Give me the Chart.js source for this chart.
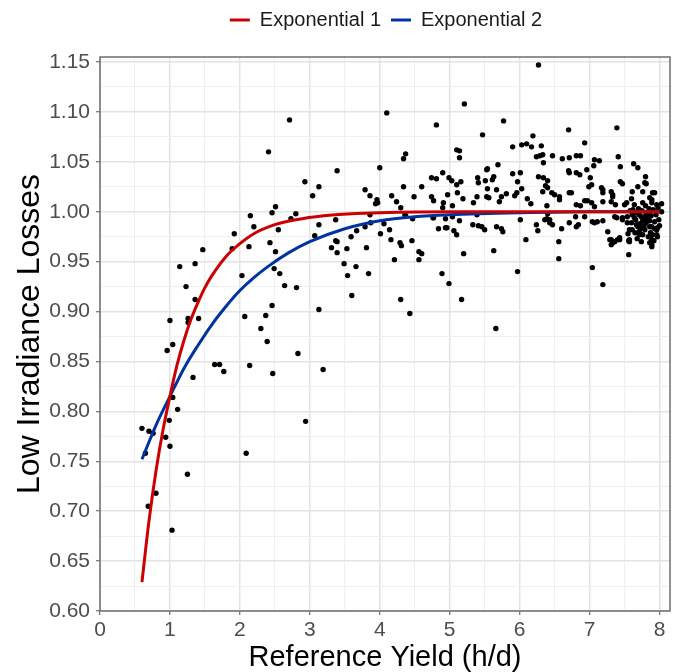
<!DOCTYPE html>
<html>
<head>
<meta charset="utf-8">
<script src="https://cdn.jsdelivr.net/npm/chart.js@4.4.1/dist/chart.umd.min.js"></script>
<style>
  html, body { margin: 0; padding: 0; background: #fff; }
  #wrap { position: relative; width: 683px; height: 672px; }
</style>
</head>
<body>
<div id="wrap"><canvas id="lossChart" width="683" height="672"></canvas></div>
<script>
// tick labels
const xTicks = [0, 1, 2, 3, 4, 5, 6, 7, 8];
const yTicks = [0.60, 0.65, 0.70, 0.75, 0.80, 0.85, 0.90, 0.95, 1.00, 1.05, 1.10, 1.15];

// fitted curves
const exp1X = [0.6, 0.7, 0.8, 0.9, 1.0, 1.1, 1.2, 1.3, 1.4, 1.5, 1.6, 1.8, 2.0, 2.2, 2.5, 2.8, 3.2, 3.6, 4.0, 5.0, 6.0, 7.0, 8.0];
const exp1Y = [0.629, 0.690, 0.740, 0.781, 0.815, 0.846, 0.871, 0.892, 0.909, 0.924, 0.936, 0.955, 0.968, 0.978, 0.987, 0.992, 0.996, 0.998, 0.999, 1.000, 1.000, 1.000, 1.000];
const exp2X = [0.6, 0.8, 1.0, 1.2, 1.4, 1.6, 1.8, 2.0, 2.2, 2.4, 2.7, 3.0, 3.5, 4.0, 4.5, 5.0, 6.0, 7.0, 8.0];
const exp2Y = [0.752, 0.786, 0.815, 0.843, 0.866, 0.887, 0.905, 0.921, 0.934, 0.945, 0.959, 0.970, 0.983, 0.991, 0.995, 0.997, 0.999, 1.000, 1.000];

// measured points [reference yield, low irradiance loss]
const measured = [
  [0.60,0.783],[0.70,0.780],[0.76,0.778],[0.94,0.774],[1.00,0.765],[0.65,0.758],[0.80,0.718],[0.69,0.705],
  [1.03,0.681],[1.25,0.737],[2.09,0.758],[1.04,0.814],[1.11,0.802],[0.99,0.791],[0.96,0.861],[1.04,0.867],
  [1.33,0.834],[1.00,0.891],[1.26,0.893],[1.26,0.889],[1.41,0.893],[1.36,0.912],[1.23,0.925],[1.14,0.945],
  [1.36,0.948],[1.47,0.962],[1.64,0.847],[1.71,0.847],[1.77,0.840],[2.14,0.846],[2.47,0.838],[1.89,0.963],
  [1.92,0.978],[2.13,0.965],[2.15,0.996],[2.20,0.985],[2.03,0.936],[2.07,0.895],[2.37,0.896],[2.46,0.906],
  [2.30,0.883],[2.39,0.870],[2.43,0.969],[2.41,1.060],[2.51,1.005],[2.46,0.999],[2.55,0.982],[2.73,0.993],
  [2.80,0.998],[2.71,1.092],[2.51,0.960],[2.49,0.943],[2.57,0.938],[2.64,0.926],[2.81,0.924],[2.83,0.858],
  [2.94,0.790],[3.19,0.842],[3.13,0.902],
  [2.93,1.030],[3.13,1.025],[3.04,1.016],[3.13,0.987],[3.37,0.992],[3.07,0.976],[3.37,0.971],[3.31,0.964],
  [3.53,0.963],[3.59,0.975],[3.67,0.981],[3.39,1.041],[3.79,1.022],[3.86,1.016],[3.96,1.012],[3.97,1.009],
  [3.94,1.008],[3.86,0.997],[3.79,0.985],[3.87,0.989],[3.81,0.964],[4.06,0.988],[4.14,0.982],[4.01,0.978],
  [4.00,1.044],[4.10,1.099],[4.17,1.016],[4.24,1.010],[4.30,1.004],[4.37,0.996],[4.47,0.993],[4.16,0.972],
  [4.29,0.969],[4.31,0.966],[4.46,0.971],[4.34,1.025],[4.49,1.015],[4.60,1.025],[4.37,1.058],[4.34,1.053],
  [3.39,0.970],[3.39,0.959],[3.49,0.948],[3.66,0.945],[3.54,0.936],[3.84,0.938],[3.60,0.916],[4.21,0.952],
  [4.56,0.960],[4.60,0.958],[4.56,0.952],[4.30,0.912],[4.43,0.898],[4.36,0.997],
  [4.81,1.087],[5.21,1.108],[5.10,1.062],[5.14,1.061],[5.14,1.054],[4.74,1.034],[4.81,1.033],[4.90,1.039],
  [4.99,1.034],[5.03,1.031],[5.10,1.027],[5.16,1.030],[4.74,1.015],[4.77,1.011],[4.91,1.009],[4.97,1.017],
  [5.04,1.006],[5.11,1.019],[5.19,1.013],[5.34,1.009],[5.39,1.015],[5.40,1.034],[5.41,1.029],[4.90,1.004],
  [4.77,0.994],[4.94,0.993],[5.04,0.995],[5.14,0.991],[4.84,0.983],[4.94,0.984],[5.06,0.981],[5.10,0.977],
  [5.33,0.987],[5.41,0.986],[4.89,0.938],[4.99,0.928],[5.17,0.912],[5.20,0.958],[4.76,0.994],[4.96,0.984],
  [6.27,1.147],[5.77,1.091],[5.47,1.077],[6.70,1.082],[7.39,1.084],[5.90,1.065],[6.03,1.067],[6.10,1.068],
  [6.17,1.065],[6.19,1.076],[6.31,1.066],[6.93,1.069],[6.24,1.055],[6.29,1.056],[6.33,1.057],[6.34,1.049],
  [6.47,1.056],[6.61,1.053],[6.71,1.054],[6.81,1.056],[6.87,1.056],[7.07,1.052],[7.14,1.051],[7.06,1.046],
  [7.41,1.055],[7.44,1.045],[7.63,1.048],[7.69,1.044],[5.54,1.043],[5.53,1.042],[5.69,1.047],[5.63,1.035],
  [5.61,1.032],[5.51,1.031],[5.90,1.038],[6.01,1.039],[5.97,1.030],[6.03,1.023],[5.96,1.019],[5.93,1.016],
  [6.27,1.035],[6.34,1.034],[6.40,1.031],[6.37,1.026],[6.40,1.024],[6.33,1.020],[6.70,1.041],[6.71,1.039],
  [6.81,1.039],[6.86,1.037],[6.96,1.042],[7.01,1.034],[6.99,1.025],[6.74,1.019],[6.50,1.017],[6.57,1.015],
  [6.57,1.012],[6.11,1.013],[6.16,1.008],[5.74,1.015],[5.81,1.018],[5.71,1.010],[5.67,1.022],[5.56,1.014],
  [5.54,1.023],[6.81,1.007],[6.87,1.006],[6.97,1.011],[7.03,1.009],[7.07,1.005],[7.17,1.024],[7.19,1.019],
  [7.19,1.010],[7.31,1.020],[7.33,1.015],[7.37,1.007],[7.44,1.030],[7.47,1.028],[7.50,1.007],[7.60,1.013],
  [7.61,1.020],[7.69,1.025],[7.76,1.020],[7.80,1.035],[7.81,1.028],[7.86,1.014],[7.93,1.019],[7.89,1.009],
  [7.76,1.009],[7.64,1.007],[8.03,1.008],[5.53,1.015],[6.39,1.006],[6.46,1.019],[6.71,1.019],[6.93,1.011],
  [5.46,0.985],[5.50,0.982],[5.67,0.985],[5.76,0.980],[5.74,0.983],[6.01,0.992],[6.09,0.972],[6.26,0.981],
  [6.39,0.993],[6.40,0.998],[6.43,0.989],[6.47,0.987],[6.60,0.983],[6.71,0.989],[6.81,0.985],[6.84,0.987],
  [6.93,0.995],[6.56,0.970],[7.07,0.989],[7.11,0.990],[7.19,0.991],[7.26,0.980],[7.29,0.972],[7.33,0.969],
  [7.40,0.972],[7.39,0.994],[7.47,0.992],[7.54,0.989],[7.57,0.982],[7.64,0.994],[7.69,0.985],[7.71,0.980],
  [7.76,0.977],[7.81,0.989],[7.89,0.985],[7.93,0.990],[7.96,0.982],[7.90,0.977],[7.97,0.975],[7.61,0.997],
  [7.67,0.999],[7.74,0.995],[7.79,0.995],[7.83,0.997],[7.57,0.970],[7.74,0.970],[7.86,0.969],[7.89,0.965],
  [6.24,0.987],[6.80,0.995],[5.63,0.961],[5.97,0.940],[5.66,0.883],[6.56,0.953],[7.04,0.944],[7.19,0.927],
  [7.31,0.967],[7.43,0.972],[7.56,0.971],[7.56,0.957],[7.89,0.967],[6.43,0.992],[5.39,0.997],[6.36,0.992],
  [7.03,1.027],[7.19,1.022],[7.33,1.017],[7.31,1.010],[7.53,1.009],[7.79,1.029],[7.90,1.019],[7.89,1.012],
  [7.96,1.007],[8.03,1.000],[7.04,0.990],[7.36,0.995],[7.47,0.994],[7.31,0.972],[7.36,0.970],[7.43,0.974],
  [7.57,0.972],[7.61,0.982],[7.71,0.977],[7.89,0.972],[7.96,0.977],[7.97,0.984],[7.86,0.985],[7.79,0.982],
  [7.67,0.987],[7.60,0.989],[7.76,0.991],[7.86,0.991],[7.71,0.997],[7.81,0.999],[7.54,0.995],
  [7.62,1.002],[7.66,0.992],[7.70,1.003],[7.72,0.988],[7.75,1.001],[7.78,0.986],[7.80,1.006],[7.83,0.993],
  [7.85,1.003],[7.87,0.979],[7.88,0.996],[7.91,1.002],[7.93,0.983],[7.95,0.997],[7.98,1.004],[7.99,0.992],
  [8.00,0.986],[7.84,0.975],[7.73,0.983],[7.65,0.979],[7.58,1.001],[7.55,0.978],[7.92,0.971],[7.68,0.973]
];

const FONT = "'Liberation Sans', Arial, sans-serif";
const RED = "#cc0000";
const BLUE = "#0033a0";

// add a minor line halfway between every pair of labelled ticks
const withMinors = (majors) => {
  const out = [];
  majors.forEach((v, i) => {
    out.push({ value: v, major: true });
    if (i < majors.length - 1) out.push({ value: (v + majors[i + 1]) / 2, major: false });
  });
  return out;
};

const gridColor = (c) => (c.tick && c.tick.major ? "#e3e3e3" : "#efefef");
const gridWidth = (c) => (c.tick && c.tick.major ? 1.5 : 1);
const tickMarkColor = (c) => (c.tick && c.tick.major ? "#555555" : "rgba(0,0,0,0)");

// legend sits higher than the plot, shifted over the panel like ggplot
const legendSpacer = {
  id: "legendSpacer",
  beforeLayout(chart) {
    const lg = chart.legend;
    if (lg && !lg._spaced) {
      const fit = lg.fit;
      lg.fit = function () {
        fit.call(this);
        this.height = 57;
      };
      lg._spaced = true;
    }
  },
  afterLayout(chart) {
    chart.legend.left += 51;
    chart.legend.right += 51;
  },
};

const panelBorder = {
  id: "panelBorder",
  afterDatasetsDraw(chart) {
    const { ctx, chartArea: a } = chart;
    ctx.save();
    ctx.strokeStyle = "#6e6e6e";
    ctx.lineWidth = 1.5;
    ctx.strokeRect(a.left, a.top, a.right - a.left, a.bottom - a.top);
    ctx.restore();
  },
};

new Chart(document.getElementById("lossChart"), {
  type: "scatter",
  data: {
    datasets: [
      {
        label: "Exponential 1",
        data: exp1X.map((x, i) => ({ x: x, y: exp1Y[i] })),
        showLine: true,
        borderColor: RED,
        backgroundColor: RED,
        borderWidth: 3,
        pointRadius: 0,
        cubicInterpolationMode: "monotone",
      },
      {
        label: "Exponential 2",
        data: exp2X.map((x, i) => ({ x: x, y: exp2Y[i] })),
        showLine: true,
        borderColor: BLUE,
        backgroundColor: BLUE,
        borderWidth: 3,
        pointRadius: 0,
        cubicInterpolationMode: "monotone",
      },
      {
        label: "Measured",
        data: measured.map((p) => ({ x: p[0], y: p[1] })),
        backgroundColor: "#000000",
        borderWidth: 0,
        pointRadius: 2.7,
      },
    ],
  },
  options: {
    responsive: false,
    animation: false,
    layout: { padding: { top: 0, right: 13, bottom: 0, left: 0 } },
    plugins: {
      tooltip: { enabled: false },
      legend: {
        position: "top",
        labels: {
          boxWidth: 20,
          boxHeight: 3,
          padding: 10,
          color: "#1a1a1a",
          font: { family: FONT, size: 20 },
          filter: (item) => item.datasetIndex < 2,
          generateLabels: (chart) =>
            Chart.defaults.plugins.legend.labels.generateLabels(chart).map((it) => ({ ...it, lineWidth: 0 })),
        },
      },
    },
    scales: {
      x: {
        type: "linear",
        min: 0,
        max: 8.15,
        afterBuildTicks: (s) => { s.ticks = withMinors(xTicks); },
        afterFit: (s) => { s.height = 61; },
        ticks: {
          autoSkip: false,
          maxRotation: 0,
          padding: 3,
          color: "#4d4d4d",
          font: { family: FONT, size: 21 },
          callback: (v) => (xTicks.includes(v) ? String(v) : ""),
        },
        grid: { color: gridColor, lineWidth: gridWidth, tickLength: 4, tickColor: tickMarkColor, tickWidth: 1 },
        border: { display: false },
        title: {
          display: true,
          text: "Reference Yield (h/d)",
          color: "#000000",
          font: { family: FONT, size: 29, lineHeight: 1 },
          padding: { top: 0, bottom: 0 },
        },
      },
      y: {
        type: "linear",
        min: 0.6,
        max: 1.155,
        afterBuildTicks: (s) => { s.ticks = withMinors(yTicks); },
        afterFit: (s) => { s.width = 100; },
        ticks: {
          autoSkip: false,
          padding: 6,
          color: "#4d4d4d",
          font: { family: FONT, size: 21 },
          callback: (v) => (yTicks.some((t) => Math.abs(t - v) < 1e-6) ? v.toFixed(2) : ""),
        },
        grid: { color: gridColor, lineWidth: gridWidth, tickLength: 4, tickColor: tickMarkColor, tickWidth: 1 },
        border: { display: false },
        title: {
          display: true,
          text: "Low Irradiance Losses",
          color: "#000000",
          font: { family: FONT, size: 32, lineHeight: 1.2 },
          padding: { top: 11, bottom: 0 },
        },
      },
    },
  },
  plugins: [legendSpacer, panelBorder],
});
</script>
</body>
</html>
